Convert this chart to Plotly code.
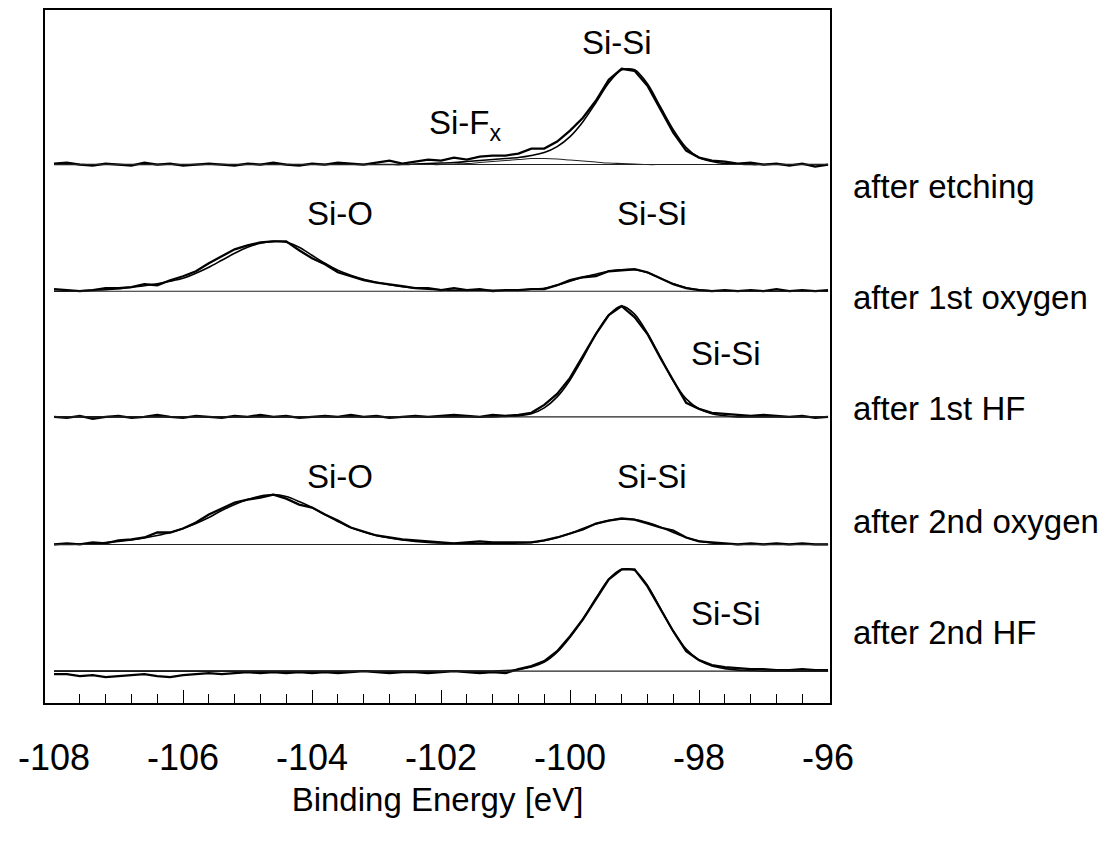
import plotly.graph_objects as go

# Binding energy grid [eV]
energy = [-108.0, -107.8, -107.6, -107.4, -107.2, -107.0, -106.8, -106.6, -106.4, -106.2,
          -106.0, -105.8, -105.6, -105.4, -105.2, -105.0, -104.8, -104.6, -104.4, -104.2,
          -104.0, -103.8, -103.6, -103.4, -103.2, -103.0, -102.8, -102.6, -102.4, -102.2,
          -102.0, -101.8, -101.6, -101.4, -101.2, -101.0, -100.8, -100.6, -100.4, -100.2,
          -100.0, -99.8, -99.6, -99.4, -99.2, -99.0, -98.8, -98.6, -98.4, -98.2,
          -98.0, -97.8, -97.6, -97.4, -97.2, -97.0, -96.8, -96.6, -96.4, -96.2, -96.0]

# after etching
etch_data = [1, 2, 0, -1, 1, 0, -1, 2, 0, 1,
             -1, 0, 1, 0, -1, 1, 0, 2, 0, -1,
             1, 0, 2, 1, 0, 2, 4, 1, 3, 5,
             4, 7, 5, 8, 9, 9, 11, 16, 16, 23,
             34, 47, 64, 85, 96, 94, 79, 56, 32, 14,
             7, 4, 3, 1, 2, 0, 1, -1, 1, -2, 0]
etch_fit = [0, 0, 0, 0, 0, 0, 0, 0, 0, 0,
            0, 0, 0, 0, 0, 0, 0, 0, 0, 0,
            0, 0, 0, 0, 0, 0, 0, 0, 0.5, 1,
            1.5, 2, 3, 4, 5, 6, 7, 9, 12, 18,
            28, 43, 62, 82, 95, 95, 81, 58, 35, 17,
            7, 3, 1, 0.5, 0, 0, 0, 0, 0, 0, 0]
etch_sifx = [0, 0, 0, 0, 0, 0, 0, 0, 0, 0,
             0, 0, 0, 0, 0, 0, 0, 0, 0, 0,
             0, 0, 0, 0, 0, 0, 0, 0, 0, 0,
             0, 0.5, 1, 2, 3, 4, 5, 6, 6, 5.5,
             4.5, 3.5, 2.5, 1.5, 1, 0.5, 0, 0, 0, 0,
             0, 0, 0, 0, 0, 0, 0, 0, 0, 0, 0]

# after 1st oxygen
ox1_data = [2, 1, 0, 1, 3, 3, 4, 7, 6, 11,
            15, 20, 28, 35, 42, 46, 49, 50, 50, 41,
            33, 27, 19, 15, 11, 8.5, 7, 5, 3, 3,
            1, 3, 1, 2, 0, 1, 1, 2, 2, 6,
            11, 14, 15, 20, 21, 22, 19, 13, 7, 3,
            1, 0, 1, 0, 1, 0, 2, 0, 1, 0, 1]
ox1_fit = [0, 0, 0.5, 1, 1.5, 2.5, 4, 5.5, 7.5, 10,
           13, 18, 24, 31, 38, 44, 48, 50, 49, 44,
           36, 28, 21, 16, 12, 9, 6.5, 4.5, 3, 2,
           1.5, 1, 1, 1, 1, 1, 1, 2, 3, 6,
           10, 14, 17, 20, 21.5, 21.5, 18.5, 13, 7.5, 3.5,
           1.5, 0.5, 0, 0, 0, 0, 0, 0, 0, 0, 0]

# after 1st HF
hf1_data = [0, -1, 1, -2, 0, 1, -1, 0, 2, 0,
            -1, 1, 0, -1, 1, 0, 2, 0, 1, -1,
            0, 1, 0, 2, 0, 1, -1, 0, 1, 0,
            1, 2, 1, 0, 2, 1, 2, 4, 12, 23,
            39, 61, 83, 102, 111, 100, 83, 59, 36, 14,
            8, 4, 3, 2, 1, 2, 1, 0, 1, -1, 0]
hf1_fit = [0, 0, 0, 0, 0, 0, 0, 0, 0, 0,
           0, 0, 0, 0, 0, 0, 0, 0, 0, 0,
           0, 0, 0, 0, 0, 0, 0, 0, 0, 0,
           0, 0, 0, 0, 0, 0.5, 1, 3, 9, 20,
           37, 59, 83, 102, 111, 103, 84, 60, 36, 18,
           8, 3, 1, 0, 0, 0, 0, 0, 0, 0, 0]

# after 2nd oxygen
ox2_data = [0, 1, 0, 2, 1, 4, 5, 7, 12, 12,
            16, 22, 30, 36, 42, 45, 47, 50, 46, 40,
            37, 30, 24, 17, 13, 9, 7, 5, 4, 3,
            2, 1, 2, 3, 2, 2, 2, 2, 4, 7,
            11, 15, 21, 24, 26, 25, 21, 17, 14, 7,
            3, 2, 1, 0, 1, 0, 1, 0, 1, 0, 0]
ox2_fit = [0, 0, 0.5, 1, 2, 3, 4.5, 6.5, 9, 12,
           16, 21, 27, 34, 40, 45, 48.5, 50, 48, 43,
           37, 30, 23, 17, 12.5, 9, 6.5, 4.5, 3, 2,
           1.5, 1, 1, 1, 1, 1, 1.5, 2, 4, 7,
           11, 16, 20.5, 24, 25.5, 25, 22, 17.5, 12, 7,
           3.5, 1.5, 0.5, 0, 0, 0, 0, 0, 0, 0, 0]

# after 2nd HF
hf2_data = [-3, -3, -5, -4, -6, -5, -4, -3, -5, -6,
            -4, -3, -2, -3, -2, -1, -2, -1, -2, -1,
            -2, -1, -2, -1, 0, -1, -2, -1, -1, -2,
            -1, 0, -1, -2, -1, -2, 2, 5, 10, 20,
            35, 52, 72, 92, 102, 102, 85, 62, 40, 20,
            11, 6, 4, 3, 2, 2, 1, 1, 2, 1, 1]
hf2_fit = [0, 0, 0, 0, 0, 0, 0, 0, 0, 0,
           0, 0, 0, 0, 0, 0, 0, 0, 0, 0,
           0, 0, 0, 0, 0, 0, 0, 0, 0, 0,
           0, 0, 0, 0, 0, 0.5, 1.5, 4, 9, 19,
           34, 52, 73, 92, 102, 101, 86, 63, 40, 22,
           11, 5, 2.5, 1, 0.5, 0, 0, 0, 0, 0, 0]

# background lines (start / end energy and level)
bg_energy = [-108.0, -96.0]
bg_level = [0, 0]

spectra_names = ["after etching", "after 1st oxygen", "after 1st HF", "after 2nd oxygen", "after 2nd HF"]
spectra_offsets = [540, 413, 287, 159, 32]
spectra_data = [etch_data, ox1_data, hf1_data, ox2_data, hf2_data]
spectra_fit = [etch_fit, ox1_fit, hf1_fit, ox2_fit, hf2_fit]
label_levels = [518, 407, 295, 182, 71]

# peak labels: text, energy, level
peak_text = ["Si-Si", "Si-F<sub>x</sub>", "Si-O", "Si-Si", "Si-Si", "Si-O", "Si-Si", "Si-Si"]
peak_energy = [-99.27, -102.22, -103.57, -98.73, -97.58, -103.57, -98.73, -97.58]
peak_level = [662, 580, 491, 491, 351, 227, 227, 90]
peak_anchor = ["center", "left", "center", "center", "center", "center", "center", "center"]

tick_vals = [-108, -106, -104, -102, -100, -98, -96]
tick_text = ["-108", "-106", "-104", "-102", "-100", "-98", "-96"]
major_tick_vals = [-106, -104, -102, -100, -98]
minor_tick_vals = [-107.6, -107.2, -106.8, -106.4, -105.6, -105.2, -104.8, -104.4,
                   -103.6, -103.2, -102.8, -102.4, -101.6, -101.2, -100.8, -100.4,
                   -99.6, -99.2, -98.8, -98.4, -97.6, -97.2, -96.8, -96.4]

FONT = "Liberation Sans, Arial, Helvetica, sans-serif"
x_range = [-108.14, -95.97]

fig = go.Figure()

for name, off, d, f in zip(spectra_names, spectra_offsets, spectra_data, spectra_fit):
    fig.add_trace(go.Scatter(x=bg_energy, y=[off + v for v in bg_level], mode="lines",
                             line=dict(color="#222222", width=1.1), xaxis="x2",
                             hoverinfo="skip", showlegend=False))
    fig.add_trace(go.Scatter(x=energy, y=[off + v for v in f], mode="lines",
                             line=dict(color="black", width=1.6, shape="spline", smoothing=0.8),
                             name=name + " fit", showlegend=False))
    fig.add_trace(go.Scatter(x=energy, y=[off + v for v in d], mode="lines",
                             line=dict(color="black", width=2.3),
                             name=name, showlegend=False))

fig.add_trace(go.Scatter(x=energy, y=[spectra_offsets[0] + v for v in etch_sifx], mode="lines",
                         line=dict(color="#222222", width=1.1, shape="spline"),
                         name="Si-Fx component", showlegend=False))

annotations = []
for name, lv in zip(spectra_names, label_levels):
    annotations.append(dict(text=name, x=1.0268, xref="paper", y=lv, yref="y",
                            xanchor="left", yanchor="middle", showarrow=False,
                            font=dict(family=FONT, size=33, color="black")))
for t, e, lv, a in zip(peak_text, peak_energy, peak_level, peak_anchor):
    annotations.append(dict(text=t, x=e, xref="x", y=lv, yref="y",
                            xanchor=a, yanchor="middle", showarrow=False,
                            font=dict(family=FONT, size=33, color="black")))

fig.update_layout(
    width=1109, height=847,
    margin=dict(l=37, r=287, t=0, b=152),
    paper_bgcolor="white", plot_bgcolor="white",
    showlegend=False,
    annotations=annotations,
    xaxis=dict(range=x_range, tickmode="array", tickvals=tick_vals, ticktext=tick_text,
               ticks="", showgrid=False, zeroline=False,
               showline=True, mirror=True, linecolor="black", linewidth=1.5,
               tickfont=dict(family=FONT, size=36, color="black"),
               ticklabelstandoff=22,
               title=dict(text="Binding Energy [eV]", standoff=11,
                          font=dict(family=FONT, size=33, color="black"))),
    xaxis2=dict(range=x_range, overlaying="x", anchor="y", side="bottom",
                tickmode="array", tickvals=major_tick_vals, ticks="inside", ticklen=13,
                tickcolor="black", tickwidth=1.2, showticklabels=False,
                showgrid=False, zeroline=False, showline=False,
                minor=dict(tickmode="array", tickvals=minor_tick_vals, ticks="inside",
                           ticklen=9, tickcolor="black", tickwidth=1, showgrid=False)),
    yaxis=dict(range=[0, 695], showticklabels=False, ticks="", showgrid=False,
               zeroline=False, showline=True, mirror=True, linecolor="black", linewidth=1.5),
)

fig.write_html("out.html")
